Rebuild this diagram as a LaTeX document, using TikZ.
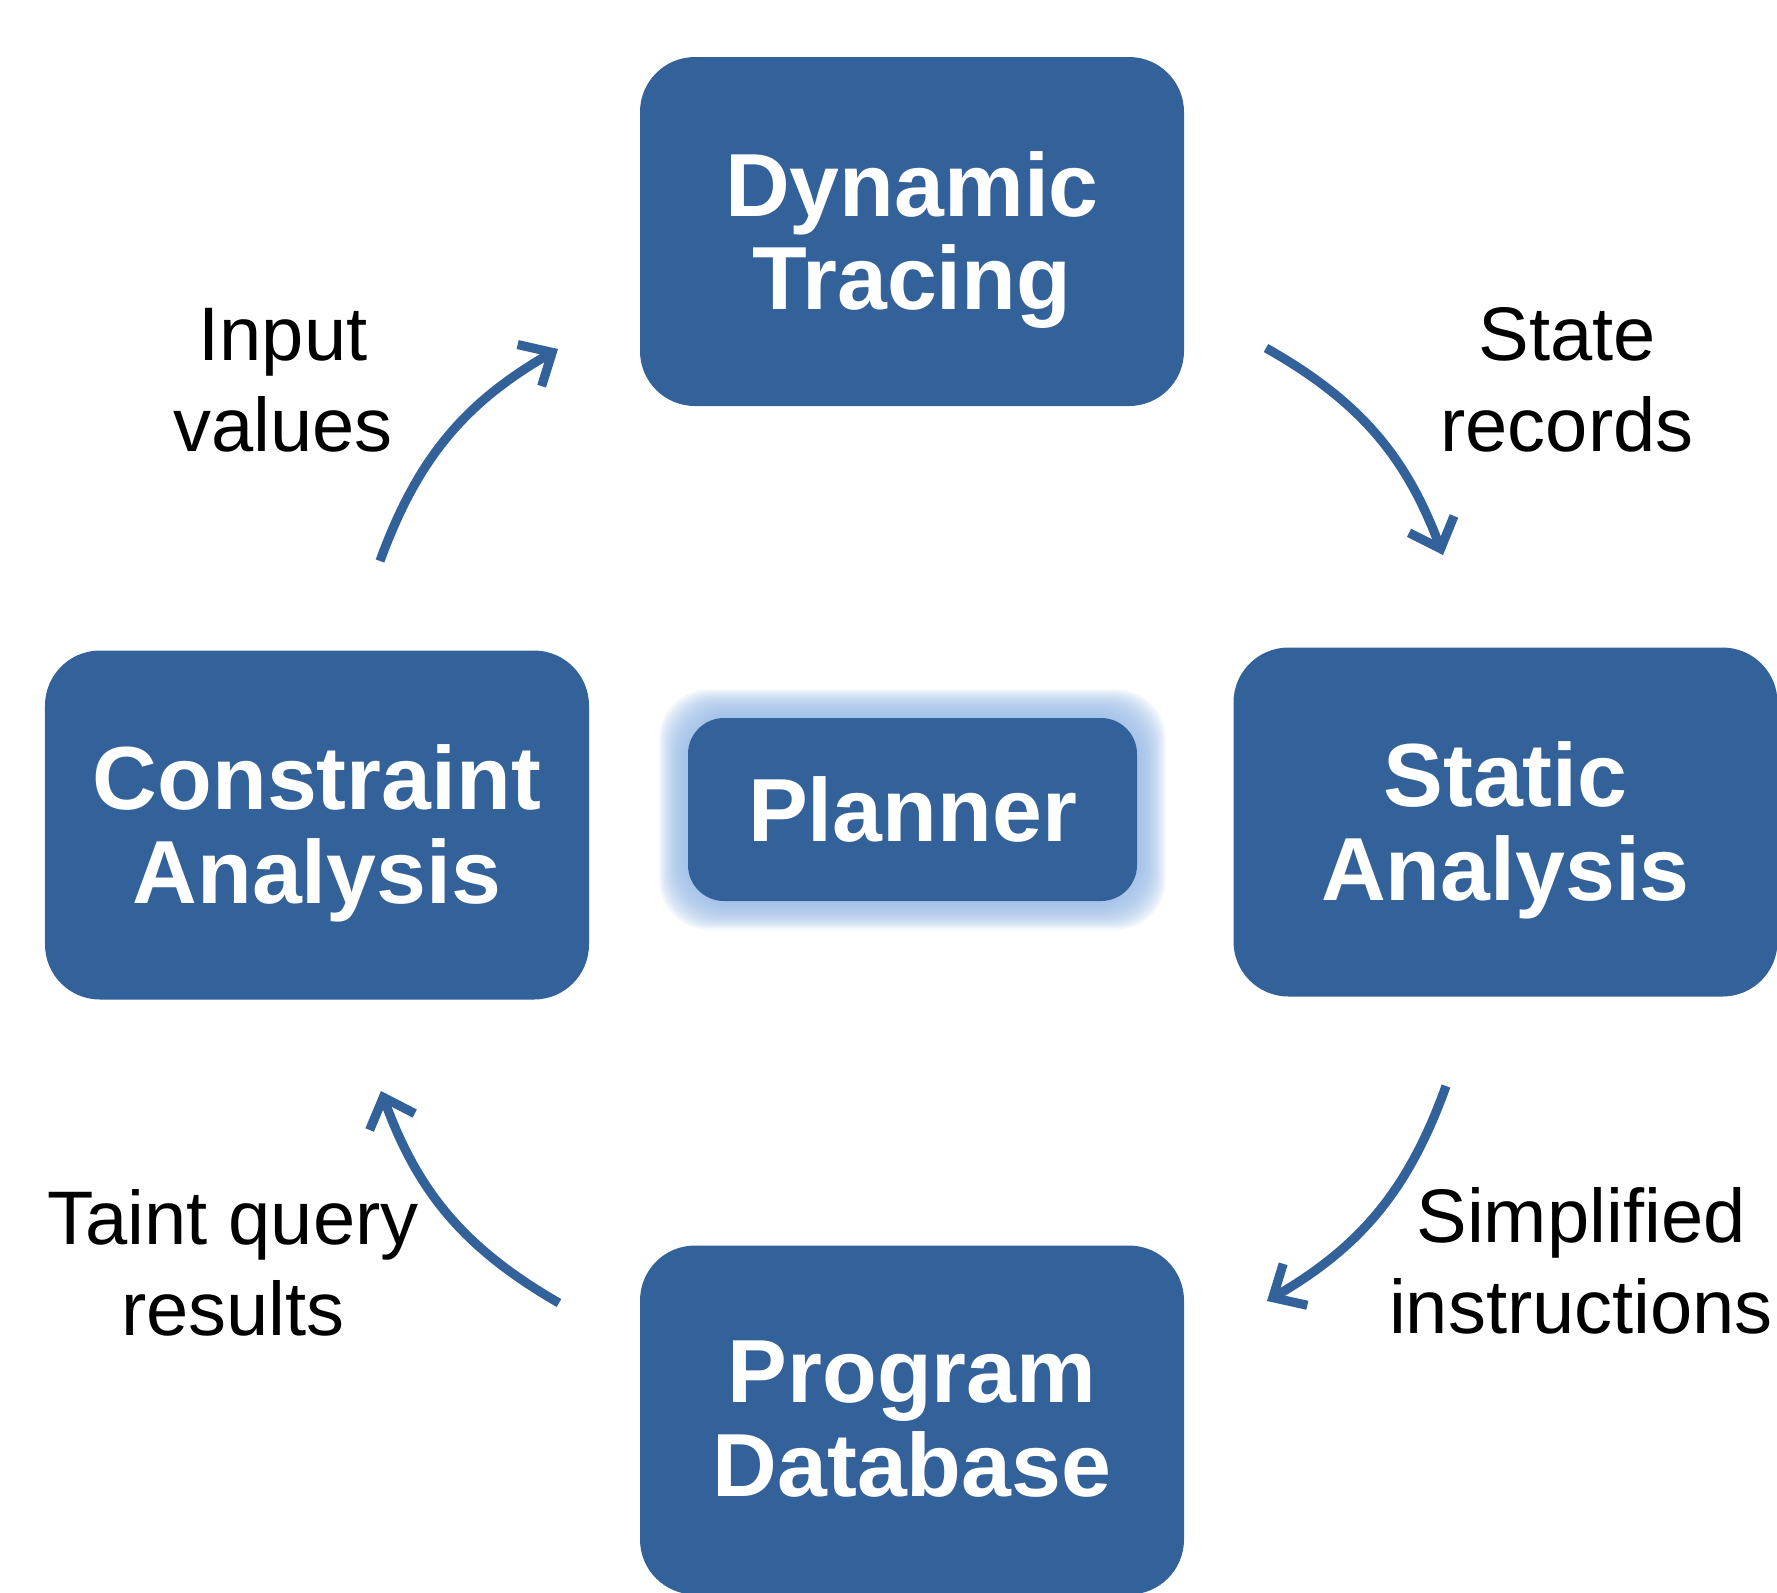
\documentclass[tikz,border=0pt]{standalone}
\usepackage{fontspec}
\setmainfont{Liberation Sans}
\usetikzlibrary{positioning,arrows.meta,backgrounds}
\definecolor{boxblue}{RGB}{51,97,153}
\definecolor{glowblue}{RGB}{150,185,228}
\tikzset{
  stage/.style={fill=boxblue, rounded corners=0.55cm, minimum width=5.44cm, minimum height=3.49cm,
    text=white, align=center, inner sep=0pt, text depth=0.02cm, font=\bfseries\fontsize{25.5}{26.7}\selectfont},
  cycle arrow/.style={draw=boxblue, line width=2.6pt, -{Straight Barb[length=0.26cm,width=0.48cm]}, bend left=20},
  note/.style={align=center, inner sep=0pt, font=\fontsize{21.6}{26}\selectfont}
}

\begin{document}
\begin{tikzpicture}
\useasboundingbox (0,0) rectangle (17.77,-15.92);

\node[stage] (trace) at (9.12,-2.315) {Dynamic\\Tracing};
\node[stage] (static) at (15.055,-8.22) {Static\\Analysis};
\node[stage] (program) at (9.12,-14.2) {Program\\Database};
\node[stage] (constraint) at (3.17,-8.25) {Constraint\\Analysis};
\node[stage, rounded corners=0.36cm, minimum width=4.49cm, minimum height=1.83cm, text depth=-0.06cm] (planner) at (9.125,-8.095) {Planner};

% glow round the planner
\begin{scope}[on background layer]
  \foreach \g in {0.28,0.26,...,0.02}
    \fill[glowblue, opacity=0.13, rounded corners=0.5cm] ([shift={(-\g,-\g)}]planner.south west) rectangle ([shift={(\g,\g)}]planner.north east);
\end{scope}

\coordinate (in1) at (3.80,-5.61);
\coordinate (in2) at (5.58,-3.49);
\coordinate (st1) at (12.66,-3.48);
\coordinate (st2) at (14.43,-5.55);
\coordinate (si1) at (14.46,-10.86);
\coordinate (si2) at (12.67,-13.01);
\coordinate (ta1) at (5.59,-13.03);
\coordinate (ta2) at (3.81,-10.91);

\draw[cycle arrow] (in1) to (in2);
\draw[cycle arrow] (st1) to (st2);
\draw[cycle arrow] (si1) to (si2);
\draw[cycle arrow] (ta1) to (ta2);

\node[note] (inputlbl) at (2.83,-3.80) {Input\\values};
\node[note] (statelbl) at (15.67,-3.80) {State\\records};
\node[note] (simplbl) at (15.81,-12.61) {Simplified\\instructions};
\node[note] (taintlbl) at (2.33,-12.63) {Taint query\\results};
\end{tikzpicture}
\end{document}
